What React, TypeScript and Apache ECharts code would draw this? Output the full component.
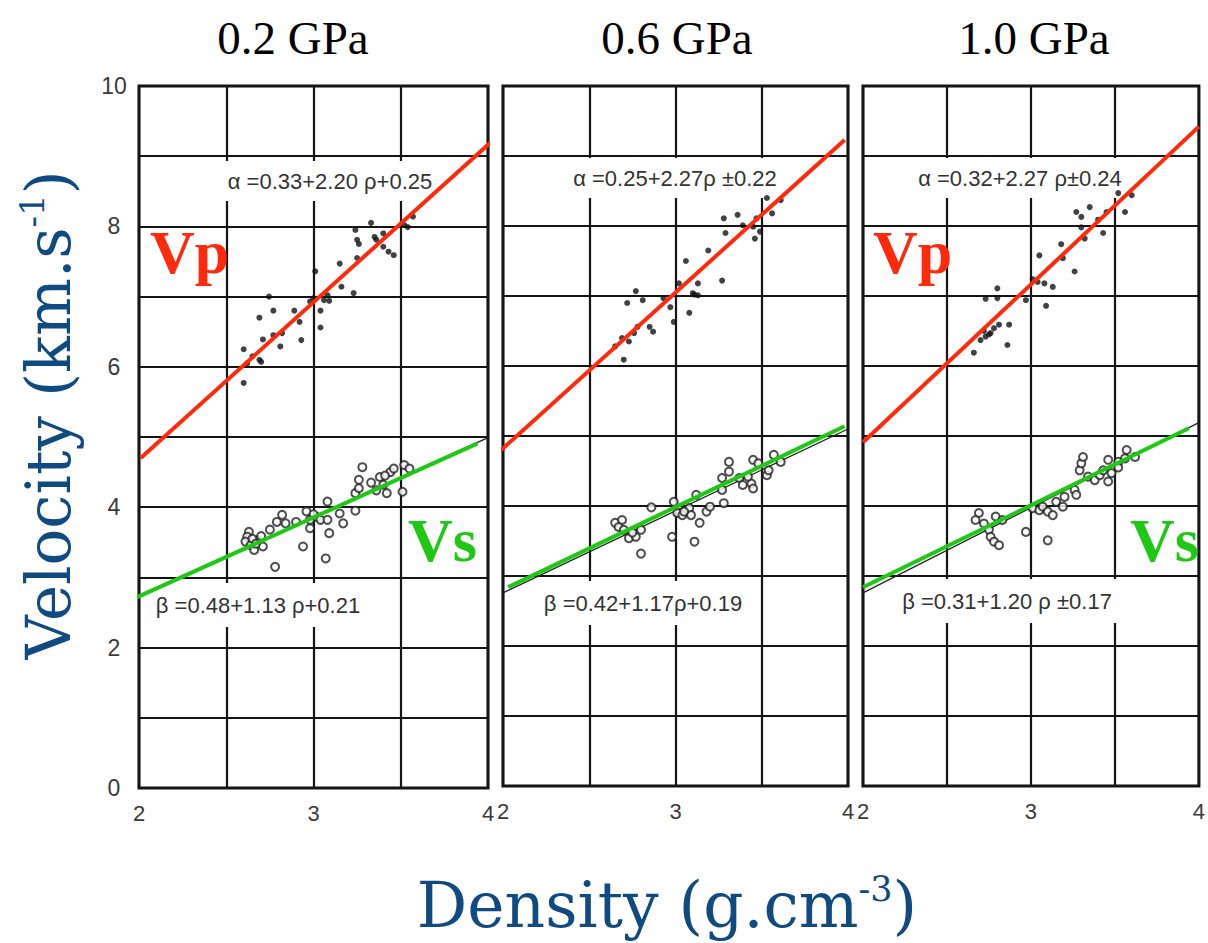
import React, { useEffect, useRef } from "react";
import * as echarts from "echarts";

// ---------- data ----------
const pressures = ["0.2 GPa", "0.6 GPa", "1.0 GPa"];
const alphaEquations = ["α =0.33+2.20 ρ+0.25", "α =0.25+2.27ρ ±0.22", "α =0.32+2.27 ρ±0.24"];
const betaEquations = ["β =0.48+1.13 ρ+0.21", "β =0.42+1.17ρ+0.19", "β =0.31+1.20 ρ ±0.17"];
const xTickLabels = [2, 3, 4];
const yTickLabels = [0, 2, 4, 6, 8, 10];

// Vp (filled dots) per panel: [density, velocity]
const vpPanel1 = [
  [2.6, 6.25], [2.69, 6.1], [2.69, 6.7], [2.745, 7.0], [2.77, 6.8], [2.71, 6.39], [2.77, 6.45],
  [2.81, 6.29], [2.82, 6.48], [2.89, 6.8], [2.92, 6.64], [2.93, 6.38], [2.98, 6.93], [3.04, 6.8],
  [3.04, 6.56], [3.06, 6.95], [3.09, 6.94], [3.01, 7.36], [3.15, 7.47], [3.16, 7.14], [3.23, 7.05],
  [3.25, 7.55], [3.25, 7.81], [3.24, 7.95], [3.26, 7.75], [3.33, 8.05], [3.35, 7.85], [3.36, 7.81],
  [3.4, 7.9], [3.4, 7.71], [3.43, 7.64], [3.46, 7.59], [3.52, 8.02], [3.54, 7.99], [3.57, 8.14],
  [2.6, 5.77], [2.7, 6.07], [2.62, 6.05], [2.65, 6.15], [3.0, 6.98], [3.08, 7.02]
];
const vpPanel2 = [
  [2.7, 6.09], [2.65, 6.28], [2.73, 6.35], [2.76, 6.47], [2.78, 6.56], [2.85, 6.56], [2.87, 6.49],
  [2.72, 6.9], [2.77, 7.07], [2.81, 6.94], [2.93, 6.97], [2.97, 6.84], [2.99, 6.63], [3.08, 6.76],
  [3.1, 7.04], [3.13, 7.18], [3.13, 7.01], [3.06, 7.5], [3.19, 7.65], [3.27, 7.22], [3.28, 8.11],
  [3.29, 7.9], [3.36, 8.16], [3.39, 8.01], [3.45, 7.99], [3.46, 7.82], [3.49, 7.92], [3.53, 8.4],
  [3.56, 8.18], [3.61, 8.37], [3.47, 8.11], [3.02, 7.18], [3.11, 7.02], [2.69, 6.4]
];
const vpPanel3 = [
  [2.66, 6.19], [2.7, 6.37], [2.73, 6.42], [2.76, 6.47], [2.78, 6.54], [2.81, 6.59], [2.87, 6.59],
  [2.86, 6.3], [2.73, 6.96], [2.8, 7.11], [2.8, 6.97], [2.97, 6.94], [3.01, 7.24], [3.08, 7.18],
  [3.13, 7.13], [3.09, 6.86], [3.05, 7.58], [3.18, 7.74], [3.19, 7.54], [3.26, 7.35], [3.27, 8.2],
  [3.3, 8.13], [3.3, 7.98], [3.35, 8.27], [3.32, 7.82], [3.4, 8.09], [3.43, 7.9], [3.45, 8.2],
  [3.52, 8.47], [3.6, 8.44], [3.56, 8.2], [2.72, 6.5], [2.75, 6.45], [3.04, 7.2]
];

// Vs (open circles) per panel
const vsPanel1 = [
  [2.63, 3.65], [2.62, 3.58], [2.61, 3.51], [2.64, 3.46], [2.66, 3.39], [2.68, 3.53], [2.7, 3.59],
  [2.71, 3.44], [2.75, 3.68], [2.78, 3.15], [2.79, 3.79], [2.82, 3.89], [2.84, 3.77], [2.9, 3.79],
  [2.94, 3.44], [2.96, 3.94], [2.98, 3.82], [2.98, 3.7], [3.02, 3.86], [3.04, 3.82], [3.07, 3.27],
  [3.08, 4.08], [3.08, 3.82], [3.09, 3.63], [3.15, 3.91], [3.17, 3.77], [3.24, 4.2], [3.24, 3.95],
  [3.26, 4.39], [3.28, 4.57], [3.26, 4.27], [3.33, 4.35], [3.36, 4.24], [3.38, 4.43], [3.4, 4.32],
  [3.42, 4.2], [3.44, 4.5], [3.46, 4.55], [3.51, 4.22], [3.52, 4.6], [3.55, 4.55], [3.41, 4.45],
  [2.65, 3.55], [2.67, 3.48], [3.0, 3.9]
];
const vsPanel2 = [
  [2.65, 3.76], [2.69, 3.8], [2.67, 3.7], [2.7, 3.66], [2.73, 3.54], [2.77, 3.56], [2.8, 3.32],
  [2.8, 3.66], [2.86, 3.98], [2.98, 3.56], [2.99, 4.06], [3.01, 3.9], [3.04, 3.87], [3.08, 3.97],
  [3.09, 3.87], [3.11, 3.49], [3.12, 4.16], [3.14, 3.76], [3.18, 3.92], [3.2, 3.99], [3.27, 4.23],
  [3.28, 4.04], [3.27, 4.4], [3.31, 4.49], [3.31, 4.63], [3.37, 4.4], [3.39, 4.3], [3.44, 4.32],
  [3.45, 4.25], [3.45, 4.66], [3.48, 4.61], [3.53, 4.44], [3.54, 4.51], [3.57, 4.73], [3.61, 4.63],
  [3.42, 4.42], [2.75, 3.62], [3.05, 3.92]
];
const vsPanel3 = [
  [2.69, 3.9], [2.67, 3.8], [2.72, 3.75], [2.75, 3.66], [2.76, 3.56], [2.78, 3.49], [2.81, 3.44],
  [2.79, 3.85], [2.83, 3.8], [2.97, 3.63], [3.1, 3.51], [3.01, 3.97], [3.05, 3.94], [3.07, 3.99],
  [3.1, 3.92], [3.13, 3.87], [3.15, 4.06], [3.19, 3.99], [3.2, 4.13], [3.26, 4.23], [3.27, 4.16],
  [3.29, 4.51], [3.3, 4.61], [3.31, 4.7], [3.34, 4.42], [3.38, 4.37], [3.41, 4.44], [3.43, 4.51],
  [3.46, 4.66], [3.46, 4.35], [3.48, 4.47], [3.52, 4.63], [3.57, 4.8], [3.56, 4.68], [3.62, 4.7],
  [3.52, 4.55]
];

// hand-drawn coloured fit lines (endpoints)
const vpLines = [
  [[2.01, 4.7], [4.03, 9.23]],
  [[1.94, 4.69], [3.98, 9.23]],
  [[2.0, 4.91], [4.0, 9.42]]
];
const vsLines = [
  [[1.92, 2.64], [3.94, 4.91]],
  [[2.03, 2.84], [3.98, 5.14]],
  [[2.0, 2.84], [3.94, 5.11]]
];
// original thin black regression lines
const vsRegressionLines = [
  [[2.0, 2.74], [4.0, 4.99]],
  [[2.0, 2.76], [4.0, 5.1]],
  [[2.0, 2.76], [4.0, 5.19]]
];

const vpData = [vpPanel1, vpPanel2, vpPanel3];
const vsData = [vsPanel1, vsPanel2, vsPanel3];

// ---------- layout ----------
const grids = [
  { left: 139, top: 86, width: 349, height: 702 },
  { left: 503, top: 86, width: 345, height: 700 },
  { left: 863, top: 86, width: 343, height: 700 }
];
const titlePos = [293, 677, 1034];
const alphaPos = [[330, 181], [675, 178], [1020, 178]];
const betaPos = [[258, 605], [643, 603], [1007, 601]];

const RED = "#ff2a0c";
const GREEN = "#1ec814";
const BLUE = "#0f4a80";

export default function App() {
  const ref = useRef<HTMLDivElement>(null);
  useEffect(() => {
    if (!ref.current) return;
    const chart = echarts.init(ref.current, null, { renderer: "svg" });

    const xAxis = grids.map((_, i) => ({
      gridIndex: i,
      type: "value",
      min: 2,
      max: 4,
      interval: 0.5,
      axisLine: { show: false },
      axisTick: { show: false },
      splitLine: { show: true, lineStyle: { color: "#151515", width: 2.2 } },
      axisLabel: {
        show: true,
        margin: 14,
        fontSize: 22,
        color: "#3a3a3a",
        fontFamily: "Liberation Sans",
        formatter: (v: number) => (xTickLabels.includes(v) ? String(v) : "")
      }
    }));
    const yAxis = grids.map((_, i) => ({
      gridIndex: i,
      type: "value",
      min: 0,
      max: 10,
      interval: 1,
      axisLine: { show: false },
      axisTick: { show: false },
      splitLine: { show: true, lineStyle: { color: "#151515", width: 2.2 } },
      axisLabel: {
        show: i === 0,
        margin: 25,
        align: "center",
        fontSize: 23,
        color: "#3a3a3a",
        fontFamily: "Liberation Sans",
        formatter: (v: number) => (yTickLabels.includes(v) ? String(v) : "")
      }
    }));

    const series: any[] = [];
    grids.forEach((_, i) => {
      series.push({
        type: "line",
        xAxisIndex: i,
        yAxisIndex: i,
        data: vsRegressionLines[i],
        symbol: "none",
        clip: false,
        lineStyle: { color: "#222", width: 1.3 },
        z: 3
      });
      series.push({
        type: "scatter",
        xAxisIndex: i,
        yAxisIndex: i,
        data: vpData[i],
        symbol: "circle",
        symbolSize: 6,
        itemStyle: { color: "#111" },
        z: 4
      });
      series.push({
        type: "scatter",
        xAxisIndex: i,
        yAxisIndex: i,
        data: vsData[i],
        symbol: "emptyCircle",
        symbolSize: 8,
        itemStyle: { color: "#222", borderWidth: 1.5 },
        z: 4
      });
      series.push({
        type: "line",
        xAxisIndex: i,
        yAxisIndex: i,
        data: vpLines[i],
        symbol: "none",
        clip: false,
        lineStyle: { color: RED, width: 4 },
        z: 6
      });
      series.push({
        type: "line",
        xAxisIndex: i,
        yAxisIndex: i,
        data: vsLines[i],
        symbol: "none",
        clip: false,
        lineStyle: { color: GREEN, width: 4 },
        z: 6
      });
    });

    const graphic: any[] = [];
    pressures.forEach((t, i) => {
      graphic.push({
        type: "text",
        x: titlePos[i],
        y: 38,
        style: {
          text: t,
          font: "47px 'Liberation Serif'",
          fill: "#000",
          align: "center",
          verticalAlign: "middle"
        }
      });
      graphic.push({
        type: "text",
        x: alphaPos[i][0],
        y: alphaPos[i][1],
        z: 1,
        style: {
          text: alphaEquations[i],
          font: "22px 'Liberation Sans'",
          fill: "#333",
          align: "center",
          verticalAlign: "middle",
          backgroundColor: "#fff",
          padding: [9, 6]
        }
      });
      graphic.push({
        type: "text",
        x: betaPos[i][0],
        y: betaPos[i][1],
        z: 1,
        style: {
          text: betaEquations[i],
          font: "22px 'Liberation Sans'",
          fill: "#333",
          align: "center",
          verticalAlign: "middle",
          backgroundColor: "#fff",
          padding: [11, 8]
        }
      });
    });
    const bigLabel = (text: string, x: number, y: number, color: string) => ({
      type: "text",
      x,
      y,
      z: 10,
      style: {
        text,
        font: "bold 62px 'Liberation Serif'",
        fill: color,
        align: "left",
        verticalAlign: "middle"
      }
    });
    graphic.push(bigLabel("Vp", 150, 252, RED));
    graphic.push(bigLabel("Vs", 408, 540, GREEN));
    graphic.push(bigLabel("Vp", 873, 252, RED));
    graphic.push(bigLabel("Vs", 1130, 540, GREEN));

    graphic.push({
      type: "text",
      x: 48,
      y: 415,
      rotation: Math.PI / 2,
      style: {
        text: "{a|Velocity (km.s}{s|-1}{a|)}",
        align: "center",
        verticalAlign: "middle",
        rich: {
          a: { font: "61px 'DejaVu Serif'", fill: BLUE, lineHeight: 66 },
          s: { font: "34px 'DejaVu Serif'", fill: BLUE, verticalAlign: "top", lineHeight: 66 }
        }
      }
    });
    graphic.push({
      type: "text",
      x: 667,
      y: 905,
      style: {
        text: "{a|Density (g.cm}{s|-3}{a|)}",
        align: "center",
        verticalAlign: "middle",
        rich: {
          a: { font: "63px 'DejaVu Serif'", fill: BLUE, lineHeight: 68 },
          s: { font: "35px 'DejaVu Serif'", fill: BLUE, verticalAlign: "top", lineHeight: 68 }
        }
      }
    });

    chart.setOption({
      animation: false,
      backgroundColor: "#fff",
      grid: grids.map((g) => ({ ...g, show: true, borderColor: "#111", borderWidth: 3, backgroundColor: "transparent" })),
      xAxis,
      yAxis,
      series,
      graphic
    });
    return () => chart.dispose();
  }, []);
  return (
    <div
      ref={ref}
      style={{ position: "fixed", left: 0, top: 0, width: 1208, height: 943, background: "#fff" }}
    />
  );
}
